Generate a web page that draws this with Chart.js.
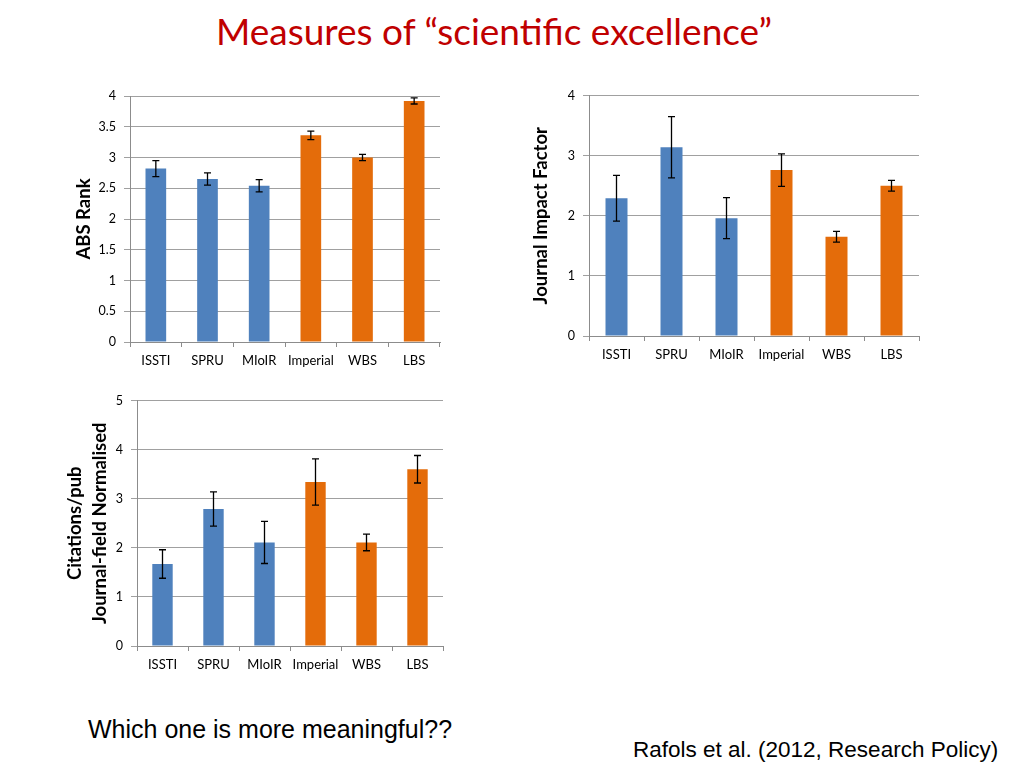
<!DOCTYPE html>
<html>
<head>
<meta charset="utf-8">
<script src="https://cdn.jsdelivr.net/npm/chart.js@4"></script>
<style>
  body { margin: 0; width: 1024px; height: 768px; background: #fff; position: relative; overflow: hidden; }
  .box { position: absolute; }
  #title { position: absolute; top: 8px; left: 0; width: 988px; text-align: center;
           font-family: Lato, "Open Sans", sans-serif; font-size: 37px; color: #c00000; }
  #question { position: absolute; left: 88px; top: 715px; font-family: "Liberation Sans", Arial, sans-serif; font-size: 25px; color: #000; }
  #cite { position: absolute; left: 633px; top: 737px; font-family: "Liberation Sans", Arial, sans-serif; font-size: 22.5px; color: #000; }
</style>
</head>
<body>
<div id="title">Measures of “scientific excellence”</div>
<div class="box" style="left:60px;top:80px"><canvas id="absChart" width="390" height="300"></canvas></div>
<div class="box" style="left:500px;top:80px"><canvas id="jifChart" width="430" height="300"></canvas></div>
<div class="box" style="left:50px;top:385px"><canvas id="citeChart" width="400" height="300"></canvas></div>
<div id="question">Which one is more meaningful??</div>
<div id="cite">Rafols et al. (2012, Research Policy)</div>
<script>
const units = ['ISSTI', 'SPRU', 'MIoIR', 'Imperial', 'WBS', 'LBS'];

const absRank = [2.82, 2.65, 2.54, 3.36, 3.00, 3.92];
const absErr  = [0.13, 0.10, 0.10, 0.07, 0.05, 0.05];

const jif    = [2.29, 3.14, 1.96, 2.76, 1.65, 2.50];
const jifErr = [0.38, 0.51, 0.34, 0.27, 0.09, 0.09];

const cites    = [1.67, 2.79, 2.11, 3.34, 2.11, 3.60];
const citesErr = [0.29, 0.35, 0.43, 0.47, 0.17, 0.28];

const blue = '#4f81bd';
const orange = '#e46c0a';
const barColors = [blue, blue, blue, orange, orange, orange];
const font = 'Lato, "Open Sans", sans-serif';

// draws the +/- error whiskers on top of the bars
const errorBars = {
  id: 'errorBars',
  afterDatasetsDraw(chart) {
    const ctx = chart.ctx;
    const y = chart.scales.y;
    const ds = chart.data.datasets[0];
    const meta = chart.getDatasetMeta(0);
    ctx.save();
    ctx.strokeStyle = '#000';
    ctx.lineWidth = 1.3;
    meta.data.forEach((bar, i) => {
      const hi = y.getPixelForValue(ds.data[i] + ds.errors[i]);
      const lo = y.getPixelForValue(ds.data[i] - ds.errors[i]);
      ctx.beginPath();
      ctx.moveTo(bar.x, hi); ctx.lineTo(bar.x, lo);
      ctx.moveTo(bar.x - 3.5, hi); ctx.lineTo(bar.x + 3.5, hi);
      ctx.moveTo(bar.x - 3.5, lo); ctx.lineTo(bar.x + 3.5, lo);
      ctx.stroke();
    });
    ctx.restore();
  }
};

function makeChart(id, values, errors, opts) {
  new Chart(document.getElementById(id), {
    type: 'bar',
    data: {
      labels: units,
      datasets: [{
        data: values,
        errors: errors,
        backgroundColor: barColors,
        borderWidth: 0,
        barPercentage: 0.4,
        categoryPercentage: 1
      }]
    },
    options: {
      responsive: false,
      animation: false,
      layout: { padding: opts.padding },
      plugins: { legend: { display: false }, tooltip: { enabled: false } },
      scales: {
        x: {
          afterFit: s => { s.height = opts.xHeight; },
          grid: { drawOnChartArea: false, offset: true, tickLength: 5, color: '#8c8c8c' },
          border: { color: '#8c8c8c' },
          ticks: { font: { family: font, size: 13 }, color: '#000', padding: 6, maxRotation: 0 }
        },
        y: {
          min: 0,
          max: opts.max,
          afterFit: s => { s.width = opts.yWidth; },
          title: { display: true, text: opts.title, color: '#000', font: { family: font, size: 18.5, weight: 'bold', lineHeight: 1.35 }, padding: { top: 4, bottom: 4 } },
          grid: { color: '#a0a0a0', tickLength: 6 },
          border: { color: '#8c8c8c' },
          ticks: { stepSize: opts.step, font: { family: font, size: 12.5 }, color: '#000', padding: 8, callback: v => String(v) }
        }
      }
    },
    plugins: [errorBars]
  });
}

makeChart('absChart', absRank, absErr, {
  title: 'ABS Rank', max: 4, step: 0.5,
  padding: { left: 7.5, top: 16, right: 10, bottom: 0 }, yWidth: 62.5, xHeight: 38
});
makeChart('jifChart', jif, jifErr, {
  title: 'Journal Impact Factor', max: 4, step: 1,
  padding: { left: 24.5, top: 15, right: 11, bottom: 0 }, yWidth: 64.5, xHeight: 44
});
makeChart('citeChart', cites, citesErr, {
  title: ['Citations/pub', 'Journal-field Normalised'], max: 5, step: 1,
  padding: { left: 8.5, top: 12, right: 7, bottom: 0 }, yWidth: 78.5, xHeight: 39
});
</script>
</body>
</html>
